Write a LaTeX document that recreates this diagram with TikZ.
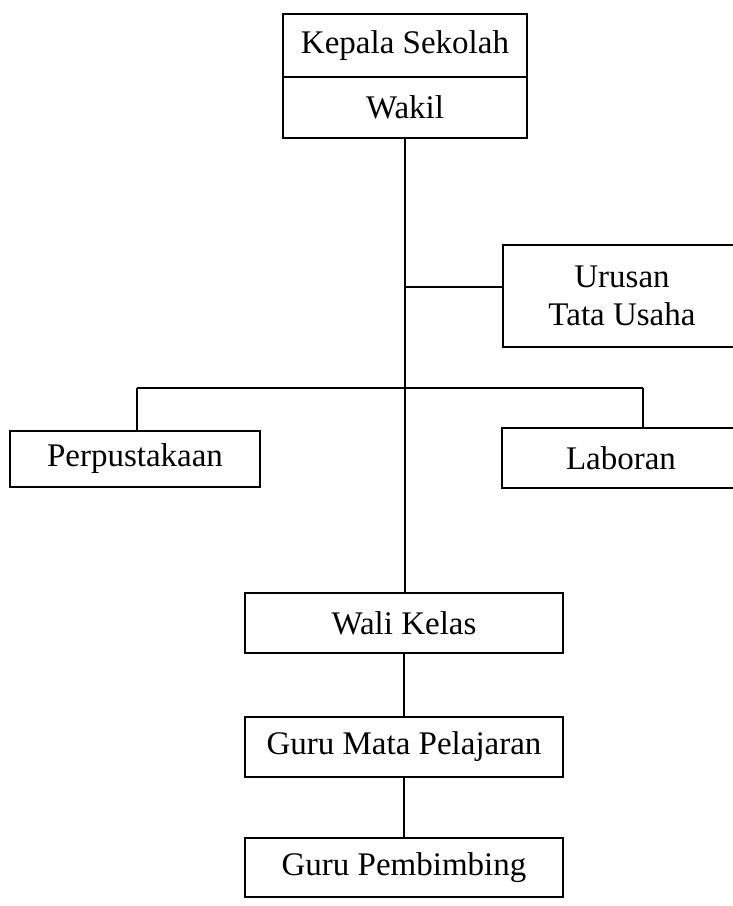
\documentclass[tikz,border=0pt]{standalone}
\usepackage{fontspec}
\setmainfont{Liberation Serif}
\begin{document}
\begin{tikzpicture}[x=1pt,y=-1pt,
  unit/.style={draw=black, line width=2pt, inner sep=0pt, align=center,
    font=\fontsize{33}{38}\selectfont, text=black},
  link/.style={draw=black, line width=2.2pt}]
  \useasboundingbox (0,0) rectangle (733,906);
  % head of the school, with the deputy below
  \node[unit, minimum width=244, minimum height=63] (kepala) at (405,45.5) {Kepala Sekolah};
  \node[unit, minimum width=244, minimum height=61] (wakil) at (405,107.5) {Wakil};
  % administration on a side branch
  \node[unit, minimum width=238, minimum height=102] (tu) at (622,296) {Urusan\\Tata Usaha};
  % library and laboratory
  \node[unit, minimum width=250, minimum height=56] (perpus) at (135,459) {Perpustakaan};
  \node[unit, minimum width=238, minimum height=60] (lab) at (621,458) {Laboran};
  % teaching staff
  \node[unit, minimum width=318, minimum height=60] (wali) at (404,623) {Wali Kelas};
  \node[unit, minimum width=318, minimum height=60] (gmp) at (404,747) {Guru Mata Pelajaran};
  \node[unit, minimum width=318, minimum height=59] (gp) at (404,867.5) {Guru Pembimbing};
  % junction points on the main line
  \coordinate (jtu) at (405,287);
  \coordinate (jbar) at (405,388);
  \coordinate (jl) at (137,388);
  \coordinate (jr) at (643,388);
  % connectors
  \draw[link] (405,0 |- wakil.south) -- (405,0 |- wali.north);
  \draw[link] (jtu) -- (jtu -| tu.west);
  \draw[link] (jl) -- (jr);
  \draw[link] (jl) -- (jl |- perpus.north);
  \draw[link] (jr) -- (jr |- lab.north);
  \draw[link] (wali) -- (gmp);
  \draw[link] (gmp) -- (gp);
\end{tikzpicture}
\end{document}
